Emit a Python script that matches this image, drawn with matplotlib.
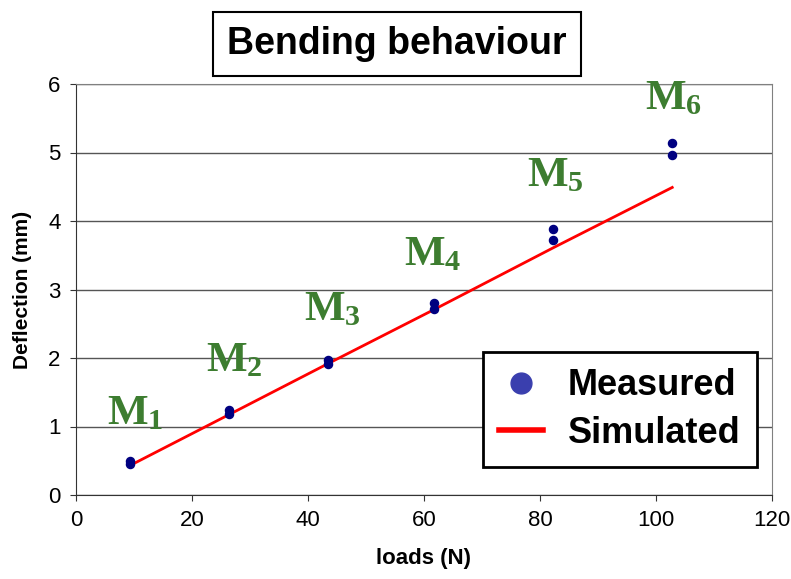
import matplotlib
matplotlib.use("Agg")
import matplotlib.pyplot as plt
from matplotlib.lines import Line2D

plt.rcParams["font.family"] = ["Liberation Sans", "DejaVu Sans"]
plt.rcParams["mathtext.fontset"] = "custom"
plt.rcParams["mathtext.rm"] = "Liberation Serif:bold"
plt.rcParams["mathtext.bf"] = "Liberation Serif:bold"
plt.rcParams["mathtext.it"] = "Liberation Serif:bold"

# measured deflection (two readings per load step)
meas_load = [9.3, 9.3, 26.3, 26.3, 43.5, 43.5, 61.8, 61.8, 82.3, 82.3, 102.8, 102.8]
meas_defl = [0.49, 0.45, 1.24, 1.18, 1.97, 1.91, 2.81, 2.71, 3.88, 3.72, 5.14, 4.96]

# simulated (FE) deflection
sim_load = [9.3, 26.3, 43.5, 61.8, 82.3, 102.8]
sim_defl = [0.43, 1.17, 1.92, 2.71, 3.61, 4.49]

labels = ["M_1", "M_2", "M_3", "M_4", "M_5", "M_6"]
label_x = [10.2, 27.2, 44.2, 61.5, 82.6, 103.0]
label_y = [1.03, 1.8, 2.55, 3.35, 4.5, 5.63]

fig = plt.figure(figsize=(7.91, 5.79), dpi=100)
ax = fig.add_axes([76 / 791, 1 - 495 / 579, (772 - 76) / 791, (495 - 84) / 579])

ax.set_xlim(0, 120)
ax.set_ylim(0, 6)
ax.set_xticks(range(0, 121, 20))
ax.set_yticks(range(0, 7))
ax.yaxis.grid(True, color="#555555", lw=1)
ax.set_axisbelow(True)
for s in ["top", "right"]:
    ax.spines[s].set_color("#808080")
for s in ["left", "bottom"]:
    ax.spines[s].set_color("#333333")
ax.tick_params(direction="out", length=4, labelsize=16, pad=7, color="#333333")

ax.plot(sim_load, sim_defl, color="#ff0000", lw=2, zorder=3)
ax.scatter(meas_load, meas_defl, s=34, color="#000080", zorder=4)

for lab, x, y in zip(labels, label_x, label_y):
    ax.text(x, y, "$" + lab + "$", color="#3d7d30", fontsize=31,
            ha="center", va="baseline")

ax.set_xlabel("loads (N)", fontsize=16, fontweight="bold", labelpad=12)
ax.set_ylabel("Deflection (mm)", fontsize=15, fontweight="bold", labelpad=12)

handles = [Line2D([], [], marker="o", ls="none", color="#3a3fae", markersize=15),
           Line2D([], [], color="#ff0000", lw=4)]
leg = fig.legend(handles, ["Measured", "Simulated"], loc="upper left",
                 bbox_to_anchor=(483 / 791, 1 - 352 / 579), borderaxespad=0,
                 prop={"size": 26, "weight": "bold"}, fancybox=False,
                 edgecolor="black", framealpha=1, handlelength=1.2,
                 handletextpad=0.7, borderpad=0.45, labelspacing=0.35)
leg.get_frame().set_linewidth(2)

fig.text(397 / 791, 1 - 44 / 579, "Bending behaviour", fontsize=27,
         fontweight="bold", ha="center", va="center",
         bbox=dict(boxstyle="square,pad=0.38", fc="white", ec="black", lw=1.5))

fig.savefig("out.png", dpi=100)
